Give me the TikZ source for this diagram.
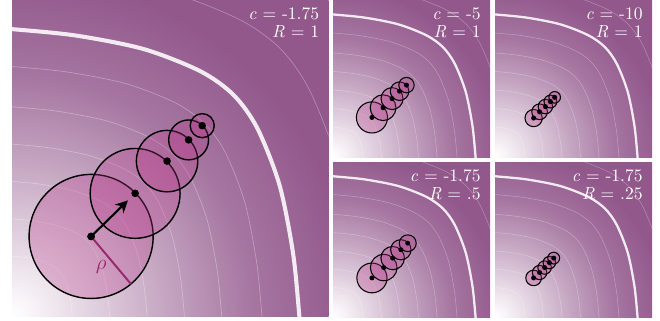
\documentclass[tikz,border=0pt]{standalone}
\usepackage{tikz}
\usetikzlibrary{arrows.meta,calc}
\definecolor{bgpurple}{RGB}{146,88,140}
\definecolor{circpink}{RGB}{186,62,140}
\definecolor{rhocol}{RGB}{150,40,110}
\pgfdeclareradialshading{panelbg}{\pgfpoint{0bp}{0bp}}{color(0bp)=(white); color(2bp)=(bgpurple!8); color(12.5bp)=(bgpurple!55); color(19bp)=(bgpurple!82); color(27bp)=(bgpurple); color(50bp)=(bgpurple)}
% one level set of the objective, in panel units
\newcommand\levelcurve{plot[smooth] coordinates {(-0.05,0.912) (0,0.908) (0.2,0.888) (0.416,0.845) (0.595,0.775) (0.70,0.70) (0.775,0.595) (0.845,0.416) (0.888,0.2) (0.908,0) (0.912,-0.05)}}
% background of a panel: shading, thin contours, constraint
\newcommand\drawpanel[2]{%
  \begin{scope}
    \clip (0,0) rectangle (1,1);
    \shade[shading=panelbg] (-1,-1) rectangle (1,1);
    \foreach \k in {0.21,0.34,0.47,0.6,0.73,0.87,1.21}
      \draw[contour=#2, scale=\k] \levelcurve;
    \draw[ridge=#1] \levelcurve;
  \end{scope}}
% chain of balls: list of x/y/r, dot radius, line width
\newcommand\ballchain[3]{%
  \foreach \bx/\by/\br in {#1}
    \filldraw[ball=#3] (\bx,\by) circle (\br);
  \foreach \bx/\by/\br in {#1}
    \fill (\bx,\by) circle (#2);}

\begin{document}
\begin{tikzpicture}[
  contour/.style={white, opacity=0.3, line width=#1},
  ridge/.style={white, opacity=0.88, line width=#1},
  ball/.style={draw=black, fill=circpink, fill opacity=0.3, line width=#1},
  lbl/.style={anchor=north east, xshift=-0.18cm, yshift=-0.15cm, inner sep=0pt, align=right, text=white, font=\fontsize{10}{10.2}\selectfont}]
  \useasboundingbox (0,0) rectangle (13.2,6.4);
  % large panel
  \begin{scope}[shift={(0.24,0.07)}, scale=6.33]
    \drawpanel{2.3pt}{0.4pt}
    \coordinate (c1) at (0.250,0.253);
    \coordinate (c2) at (0.389,0.389);
    \coordinate (rhoend) at ($(c1)+(-50:0.196)$);
    \ballchain{0.250/0.253/0.196, 0.389/0.389/0.142, 0.490/0.491/0.097, 0.558/0.558/0.063, 0.601/0.603/0.038}{0.012}{0.8pt}
    \draw[rhocol, line width=1.1pt] (c1) -- (rhoend);
    \draw[-{Stealth[length=7pt,width=7pt]}, line width=1.2pt, shorten >=0.2cm] (c1) -- (c2);
    \fill (c1) circle (0.012);
    \node[text=rhocol, font=\fontsize{12}{12}\selectfont] (rholbl) at (0.282,0.155) {$\rho$};
    \node[lbl] (lblmain) at (1,1) {\textit{c} = -1.75\\\textit{R} = 1};
  \end{scope}
  % c = -5
  \begin{scope}[shift={(6.66,3.26)}, scale=3.14]
    \drawpanel{1.3pt}{0.3pt}
    \ballchain{0.248/0.252/0.099, 0.319/0.314/0.082, 0.376/0.372/0.070, 0.424/0.419/0.059, 0.468/0.458/0.049}{0.016}{0.6pt}
    \node[lbl] (lblfive) at (1,1) {\textit{c} = -5\\\textit{R} = 1};
  \end{scope}
  % c = -10
  \begin{scope}[shift={(9.90,3.26)}, scale=3.14]
    \drawpanel{1.3pt}{0.3pt}
    \ballchain{0.246/0.248/0.055, 0.284/0.288/0.050, 0.321/0.321/0.046, 0.353/0.353/0.041, 0.380/0.380/0.037}{0.016}{0.6pt}
    \node[lbl] (lblten) at (1,1) {\textit{c} = -10\\\textit{R} = 1};
  \end{scope}
  % R = .5
  \begin{scope}[shift={(6.66,0.06)}, xscale=3.14, yscale=3.10]
    \drawpanel{1.3pt}{0.3pt}
    \ballchain{0.248/0.252/0.096, 0.323/0.319/0.085, 0.380/0.380/0.075, 0.432/0.434/0.065, 0.476/0.476/0.054}{0.016}{0.6pt}
    \node[lbl] (lblhalf) at (1,1) {\textit{c} = -1.75\\\textit{R} = .5};
  \end{scope}
  % R = .25
  \begin{scope}[shift={(9.90,0.06)}, xscale=3.14, yscale=3.10]
    \drawpanel{1.3pt}{0.3pt}
    \ballchain{0.246/0.252/0.050, 0.284/0.287/0.046, 0.316/0.319/0.043, 0.346/0.351/0.040, 0.374/0.380/0.038}{0.016}{0.6pt}
    \node[lbl] (lblquarter) at (1,1) {\textit{c} = -1.75\\\textit{R} = .25};
  \end{scope}
\end{tikzpicture}
\end{document}
